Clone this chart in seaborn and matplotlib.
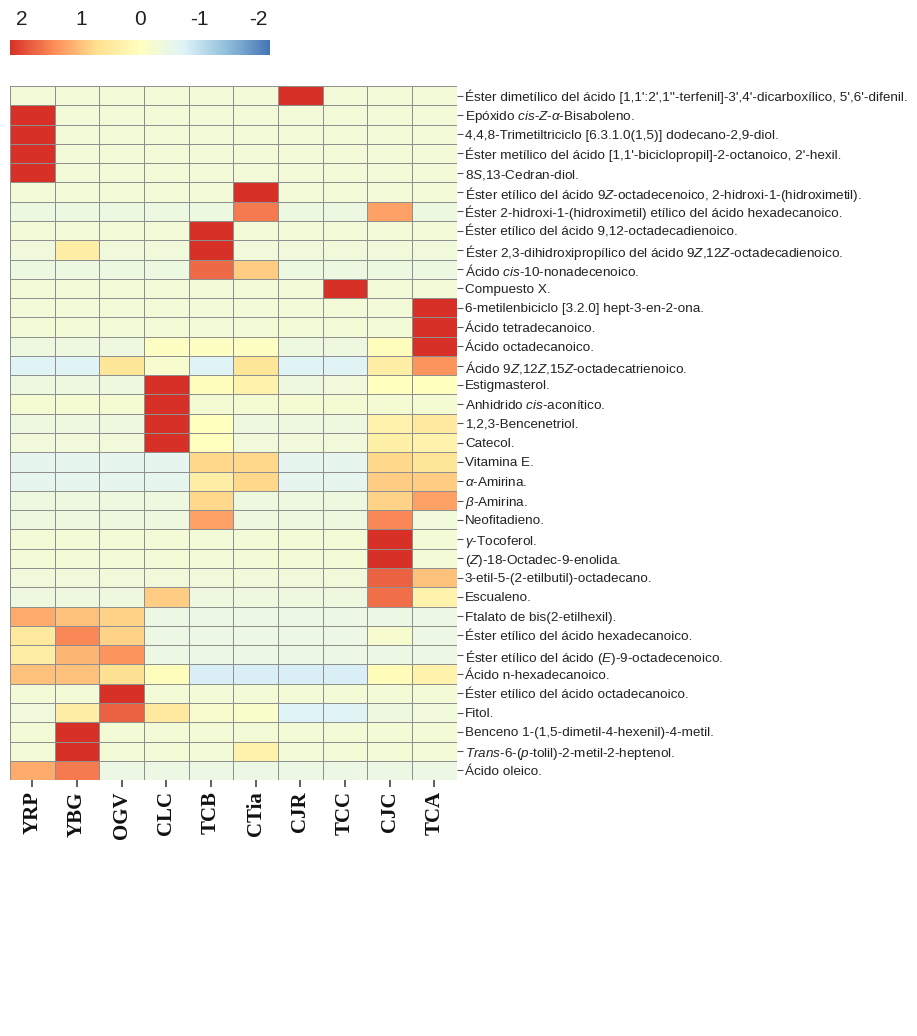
import numpy as np
import pandas as pd
import matplotlib
matplotlib.use("Agg")
import matplotlib.pyplot as plt
from matplotlib.colors import LinearSegmentedColormap
import seaborn as sns

columns = ["YRP", "YBG", "OGV", "CLC", "TCB", "CTia", "CJR", "TCC", "CJC", "TCA"]

compounds = [
    "Éster dimetílico del ácido [1,1':2',1''-terfenil]-3',4'-dicarboxílico, 5',6'-difenil.",
    r"Epóxido $\mathit{cis}$-$\mathit{Z}$-$\alpha$-Bisaboleno.",
    "4,4,8-Trimetiltriciclo [6.3.1.0(1,5)] dodecano-2,9-diol.",
    "Éster metílico del ácido [1,1'-biciclopropil]-2-octanoico, 2'-hexil.",
    r"8$\mathit{S}$,13-Cedran-diol.",
    r"Éster etílico del ácido 9$\mathit{Z}$-octadecenoico, 2-hidroxi-1-(hidroximetil).",
    "Éster 2-hidroxi-1-(hidroximetil) etílico del ácido hexadecanoico.",
    "Éster etílico del ácido 9,12-octadecadienoico.",
    r"Éster 2,3-dihidroxipropílico del ácido 9$\mathit{Z}$,12$\mathit{Z}$-octadecadienoico.",
    r"Ácido $\mathit{cis}$-10-nonadecenoico.",
    "Compuesto X.",
    "6-metilenbiciclo [3.2.0] hept-3-en-2-ona.",
    "Ácido tetradecanoico.",
    "Ácido octadecanoico.",
    r"Ácido 9$\mathit{Z}$,12$\mathit{Z}$,15$\mathit{Z}$-octadecatrienoico.",
    "Estigmasterol.",
    r"Anhidrido $\mathit{cis}$-aconítico.",
    "1,2,3-Bencenetriol.",
    "Catecol.",
    "Vitamina E.",
    r"$\alpha$-Amirina.",
    r"$\beta$-Amirina.",
    "Neofitadieno.",
    r"$\gamma$-Tocoferol.",
    r"($\mathit{Z}$)-18-Octadec-9-enolida.",
    "3-etil-5-(2-etilbutil)-octadecano.",
    "Escualeno.",
    "Ftalato de bis(2-etilhexil).",
    "Éster etílico del ácido hexadecanoico.",
    r"Éster etílico del ácido ($\mathit{E}$)-9-octadecenoico.",
    "Ácido n-hexadecanoico.",
    "Éster etílico del ácido octadecanoico.",
    "Fitol.",
    "Benceno 1-(1,5-dimetil-4-hexenil)-4-metil.",
    r"$\mathit{Trans}$-6-($\mathit{p}$-tolil)-2-metil-2-heptenol.",
    "Ácido oleico.",
]

# z-score values per compound, columns in order YRP..TCA
v01 = [-0.32, -0.32, -0.32, -0.32, -0.32, -0.32, 2.6, -0.32, -0.32, -0.32]
v02 = [2.6, -0.32, -0.32, -0.32, -0.32, -0.32, -0.32, -0.32, -0.32, -0.32]
v03 = [2.6, -0.32, -0.32, -0.32, -0.32, -0.32, -0.32, -0.32, -0.32, -0.32]
v04 = [2.6, -0.32, -0.32, -0.32, -0.32, -0.32, -0.32, -0.32, -0.32, -0.32]
v05 = [2.6, -0.32, -0.32, -0.32, -0.32, -0.32, -0.32, -0.32, -0.32, -0.32]
v06 = [-0.32, -0.32, -0.32, -0.32, -0.32, 2.6, -0.32, -0.32, -0.32, -0.32]
v07 = [-0.42, -0.42, -0.42, -0.42, -0.42, 1.6, -0.42, -0.42, 1.3, -0.42]
v08 = [-0.32, -0.32, -0.32, -0.32, 2.6, -0.32, -0.32, -0.32, -0.32, -0.32]
v09 = [-0.35, 0.4, -0.35, -0.35, 2.5, -0.35, -0.35, -0.35, -0.35, -0.35]
v10 = [-0.42, -0.42, -0.42, -0.42, 1.75, 0.9, -0.42, -0.42, -0.42, -0.42]
v11 = [-0.32, -0.32, -0.32, -0.32, -0.32, -0.32, -0.32, 2.6, -0.32, -0.32]
v12 = [-0.32, -0.32, -0.32, -0.32, -0.32, -0.32, -0.32, -0.32, -0.32, 2.6]
v13 = [-0.3, -0.3, -0.3, -0.3, -0.3, -0.3, -0.3, -0.3, -0.3, 2.5]
v14 = [-0.4, -0.4, -0.4, -0.05, -0.05, -0.05, -0.4, -0.4, 0.05, 2.4]
v15 = [-0.7, -0.7, 0.6, -0.2, -0.7, 0.6, -0.7, -0.7, 0.4, 1.4]
v16 = [-0.4, -0.4, -0.4, 2.2, 0.05, 0.3, -0.4, -0.35, 0.0, 0.0]
v17 = [-0.25, -0.25, -0.25, 2.5, -0.25, -0.25, -0.25, -0.25, -0.25, -0.25]
v18 = [-0.4, -0.4, -0.4, 2.2, 0.0, -0.4, -0.4, -0.4, 0.3, 0.5]
v19 = [-0.35, -0.35, -0.35, 2.2, 0.0, -0.35, -0.35, -0.35, 0.35, 0.3]
v20 = [-0.6, -0.6, -0.6, -0.6, 0.8, 0.8, -0.6, -0.6, 0.8, 0.6]
v21 = [-0.6, -0.6, -0.6, -0.6, 0.4, 0.8, -0.6, -0.6, 0.9, 0.9]
v22 = [-0.4, -0.4, -0.4, -0.4, 0.8, -0.4, -0.4, -0.4, 0.85, 1.3]
v23 = [-0.4, -0.4, -0.4, -0.4, 1.3, -0.4, -0.4, -0.4, 1.5, -0.35]
v24 = [-0.3, -0.3, -0.3, -0.3, -0.3, -0.3, -0.3, -0.3, 2.5, -0.3]
v25 = [-0.3, -0.3, -0.3, -0.3, -0.3, -0.3, -0.3, -0.3, 2.5, -0.3]
v26 = [-0.35, -0.35, -0.35, -0.35, -0.35, -0.35, -0.35, -0.35, 1.8, 1.0]
v27 = [-0.4, -0.4, -0.4, 0.9, -0.4, -0.4, -0.4, -0.4, 1.7, 0.3]
v28 = [1.2, 1.0, 0.85, -0.45, -0.45, -0.45, -0.45, -0.45, -0.45, -0.45]
v29 = [0.5, 1.5, 0.85, -0.45, -0.45, -0.45, -0.45, -0.45, -0.2, -0.45]
v30 = [0.4, 1.1, 1.4, -0.45, -0.45, -0.45, -0.45, -0.45, -0.45, -0.45]
v31 = [1.0, 1.0, 0.7, 0.05, -0.8, -0.8, -0.8, -0.8, 0.1, 0.3]
v32 = [-0.3, -0.3, 2.5, -0.3, -0.3, -0.3, -0.3, -0.3, -0.3, -0.3]
v33 = [-0.35, 0.4, 1.8, 0.5, -0.2, -0.15, -0.7, -0.7, -0.4, -0.35]
v34 = [-0.3, 2.5, -0.3, -0.3, -0.3, -0.3, -0.3, -0.3, -0.3, -0.3]
v35 = [-0.3, 2.4, -0.3, -0.3, -0.3, 0.3, -0.3, -0.3, -0.3, -0.3]
v36 = [1.2, 1.6, -0.45, -0.45, -0.45, -0.45, -0.45, -0.45, -0.45, -0.45]

values = [v01, v02, v03, v04, v05, v06, v07, v08, v09, v10, v11, v12,
          v13, v14, v15, v16, v17, v18, v19, v20, v21, v22, v23, v24,
          v25, v26, v27, v28, v29, v30, v31, v32, v33, v34, v35, v36]

cbar_ticks = [2, 1, 0, -1, -2]

df = pd.DataFrame(values, index=compounds, columns=columns)

sns.set_theme(style="white")
plt.rcParams["font.family"] = ["Liberation Sans", "DejaVu Sans"]
plt.rcParams["axes.unicode_minus"] = False
plt.rcParams["mathtext.fontset"] = "custom"
plt.rcParams["mathtext.rm"] = "Liberation Sans"
plt.rcParams["mathtext.it"] = "Liberation Sans:italic"
plt.rcParams["mathtext.bf"] = "Liberation Sans:bold"

cmap = LinearSegmentedColormap.from_list(
    "rdylbu_soft",
    ["#4575b4", "#91bfdb", "#e0f3f8", "#ffffbf", "#fee090", "#fc8d59", "#d73027"],
)

fig = plt.figure(figsize=(9.17, 10.36), dpi=100)
ax = fig.add_axes([0.011, 0.247, 0.487, 0.670])
cax = fig.add_axes([0.011, 0.947, 0.2835, 0.0145])

sns.heatmap(
    df, ax=ax, cmap=cmap, vmin=-2.2, vmax=2.2,
    linewidths=0.5, linecolor="#8f8f8f",
    cbar=True, cbar_ax=cax,
    cbar_kws={"orientation": "horizontal", "ticks": cbar_ticks},
)

# row labels on the right
ax.yaxis.tick_right()
ax.set_yticks(np.arange(len(compounds)) + 0.5)
ax.set_yticklabels(compounds, rotation=0, fontsize=9.7, color="#222222")
for lbl in ax.get_yticklabels():
    lbl.set_verticalalignment("center_baseline")
ax.tick_params(axis="y", which="both", right=True, length=4, width=0.8,
               color="#555555", pad=2, labelright=True, labelleft=False)
ax.set_xticks(np.arange(len(columns)) + 0.5)
ax.set_xticklabels(columns, rotation=90, fontsize=15, fontweight="bold",
                   family="Liberation Serif", color="#111111")
ax.tick_params(axis="x", which="both", bottom=True, length=5, width=1.2,
               color="#444444", pad=3)
ax.set_xlabel("")
ax.set_ylabel("")

# colorbar styling
cbar = ax.collections[0].colorbar
cbar.outline.set_visible(False)
cax.invert_xaxis()
cax.xaxis.set_ticks_position("top")
cax.xaxis.set_label_position("top")
cax.tick_params(axis="x", length=0, labelsize=15, pad=8, colors="#222222")
cax.set_xticks(cbar_ticks)
cax.set_xticklabels([str(t) for t in cbar_ticks])

fig.savefig("out.png", dpi=100, facecolor="white")
